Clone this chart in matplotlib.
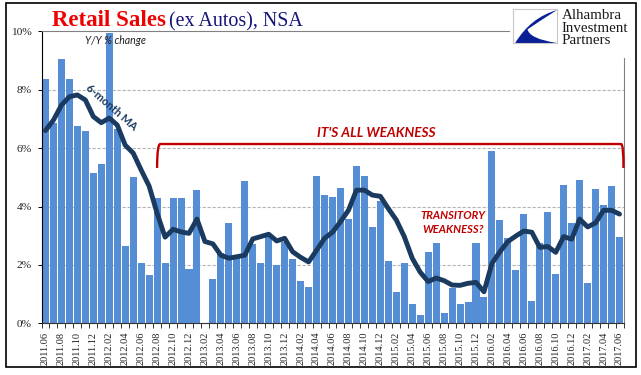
import numpy as np
import matplotlib
matplotlib.use("Agg")
import matplotlib.pyplot as plt
from matplotlib.patches import PathPatch, Rectangle
from matplotlib.path import Path

W, H = 641, 375

# Monthly labels, 2011.06 to 2017.06
months = [f"{y}.{m:02d}" for y in range(2011, 2018) for m in range(1, 13)]
months = months[5:5 + 73]

# Y/Y % change
yoy = [8.35, 6.85, 9.05, 8.35, 6.75, 6.6, 5.15, 5.45, 9.95, 6.65, 2.65, 5.0,
       2.05, 1.65, 4.3, 2.05, 4.3, 4.3, 1.85, 4.55, 0.0, 1.52, 2.4, 3.43,
       2.3, 4.87, 2.72, 2.06, 2.96, 2.0, 2.8, 2.2, 1.45, 1.24, 5.05, 4.39,
       4.32, 4.63, 3.57, 5.38, 5.05, 3.3, 4.18, 2.13, 1.07, 2.06, 0.66, 0.28,
       2.44, 2.75, 0.35, 1.2, 0.66, 0.73, 2.75, 0.9, 5.9, 3.54, 2.92, 1.83,
       3.74, 0.76, 2.74, 3.81, 1.69, 4.74, 3.43, 4.91, 1.38, 4.6, 4.05, 4.7,
       2.96]

# 6-month MA
ma = [6.6, 6.96, 7.47, 7.76, 7.82, 7.65, 7.08, 6.87, 7.03, 6.79, 6.1, 5.83,
      5.25, 4.7, 3.77, 2.95, 3.22, 3.13, 3.08, 3.57, 2.8, 2.72, 2.33, 2.23,
      2.28, 2.33, 2.89, 2.97, 3.05, 2.82, 2.91, 2.45, 2.26, 2.1, 2.5, 2.91,
      3.12, 3.48, 3.87, 4.56, 4.56, 4.39, 4.35, 3.93, 3.54, 2.97, 2.23, 1.75,
      1.43, 1.55, 1.46, 1.31, 1.3, 1.37, 1.4, 1.08, 2.05, 2.45, 2.8, 2.99,
      3.16, 3.12, 2.6, 2.63, 2.43, 2.97, 2.88, 3.57, 3.3, 3.44, 3.87, 3.87,
      3.74]

y_ticks = [0, 2, 4, 6, 8, 10]

RED = "#c00000"
NAVY = "#1a3a60"
BLUE = "#558ed5"
x = np.arange(len(months))

fig = plt.figure(figsize=(W / 100, H / 100), dpi=100, facecolor="white")
ax = fig.add_axes([41.5 / W, 1 - 323.3 / H, 582 / W, 292 / H])

# outer frame
fig.add_artist(Rectangle((5.5 / W, 1 - 366.5 / H), 630.5 / W, 363.2 / H, transform=fig.transFigure,
                         fill=False, ec="black", lw=1.2))

ax.bar(x, yoy, width=0.88, color=BLUE, zorder=2)
ax.plot(x, ma, color=NAVY, lw=3.5, zorder=3, solid_joinstyle="round", solid_capstyle="round")

ax.set_xlim(-0.5, 72.5)
ax.set_ylim(0, 10)
ax.set_yticks(y_ticks)
ax.set_yticklabels([f"{v}%" for v in y_ticks], family="Liberation Serif", fontsize=8.2, color="#222222")
ax.set_xticks(x[::2])
ax.set_xticklabels(months[::2], rotation=90, family="Liberation Serif", fontsize=7.4, color="#222222")
ax.set_xticks(np.arange(-0.5, 73, 1), minor=True)
ax.tick_params(axis="x", which="major", length=0, pad=6)
ax.tick_params(axis="x", which="minor", length=3.5, width=0.7, color="#333333")
ax.tick_params(axis="y", length=3, width=0.7, pad=4)

for v in y_ticks[1:-1]:
    ax.axhline(v, color="#b5b5b5", lw=0.8, ls=(0, (3, 1.5)), zorder=1)
ax.spines["top"].set_color("#808080")
ax.spines["right"].set_color("#808080")
ax.spines["right"].set_bounds(0, 9.1)
ax.spines["left"].set_color("black")
ax.spines["bottom"].set_color("#333333")

# bracket over the weak stretch
bracket = Path([(14, 5.32), (14, 6.14), (14.4, 6.14), (72.2, 6.14), (72.5, 6.14), (72.5, 5.32)],
               [Path.MOVETO, Path.CURVE3, Path.CURVE3, Path.LINETO, Path.CURVE3, Path.CURVE3])
ax.add_patch(PathPatch(bracket, fill=False, ec=RED, lw=1.7, zorder=4, clip_on=False))

ax.text(41.5, 6.52, "IT'S ALL WEAKNESS", color=RED, family="Lato", style="italic", weight="bold",
        fontsize=9.8, ha="center", va="center")
ax.text(51.1, 3.7, "TRANSITORY", color=RED, family="Lato", style="italic", weight="bold",
        fontsize=8, ha="center", va="center")
ax.text(51.1, 3.2, "WEAKNESS?", color=RED, family="Lato", style="italic", weight="bold",
        fontsize=8, ha="center", va="center")
ax.text(5.0, 9.68, "Y/Y % change", color="#1f1f1f", family="Lato", style="italic",
        fontsize=7.6, va="center")
ax.text(8.3, 7.4, "6-month MA", color=NAVY, family="Lato", weight="bold", fontsize=8,
        rotation=-41, rotation_mode="anchor", ha="center", va="center", zorder=5)

# title, two colours
fig.text(52 / W, 1 - 26 / H, "Retail Sales", color="#f00000", family="Liberation Serif",
         weight="bold", fontsize=16.5, va="baseline")
fig.text(169 / W, 1 - 26 / H, "(ex Autos), NSA", color="#14147a", family="Liberation Serif",
         fontsize=14.4, va="baseline")

# logo
lx, ly, lw_, lh = 513, 9, 44, 34
logo = fig.add_axes([lx / W, 1 - (ly + lh) / H, lw_ / W, lh / H], zorder=5)
logo.set_xlim(0, 1)
logo.set_ylim(0, 1)
logo.set_xticks([])
logo.set_yticks([])
for s in logo.spines.values():
    s.set_color("#c8c8c8")
swoosh = Path([(0.05, 0.0), (0.4, 0.75), (1.0, 0.97), (0.55, 0.6), (0.33, 0.4), (0.38, 0.12), (1.0, 0.0),
               (0.05, 0.0)],
              [Path.MOVETO, Path.CURVE3, Path.CURVE3, Path.CURVE3, Path.CURVE3, Path.CURVE3, Path.CURVE3,
               Path.CLOSEPOLY])
logo.add_patch(PathPatch(swoosh, fc="#0a1f96", ec="none"))

for word, base in zip(["Alhambra", "Investment", "Partners"], [19, 32, 44]):
    fig.text(561.5 / W, 1 - base / H, word, family="Liberation Serif", fontsize=10.8,
             color="#1a1a1a", va="baseline", zorder=6)
# white behind logo text so the top axis line stops short of it
fig.add_artist(Rectangle((510 / W, 1 - 50 / H), 122 / W, 45 / H, transform=fig.transFigure,
                         fc="white", ec="none", zorder=4))

fig.savefig("out.png", dpi=100)
